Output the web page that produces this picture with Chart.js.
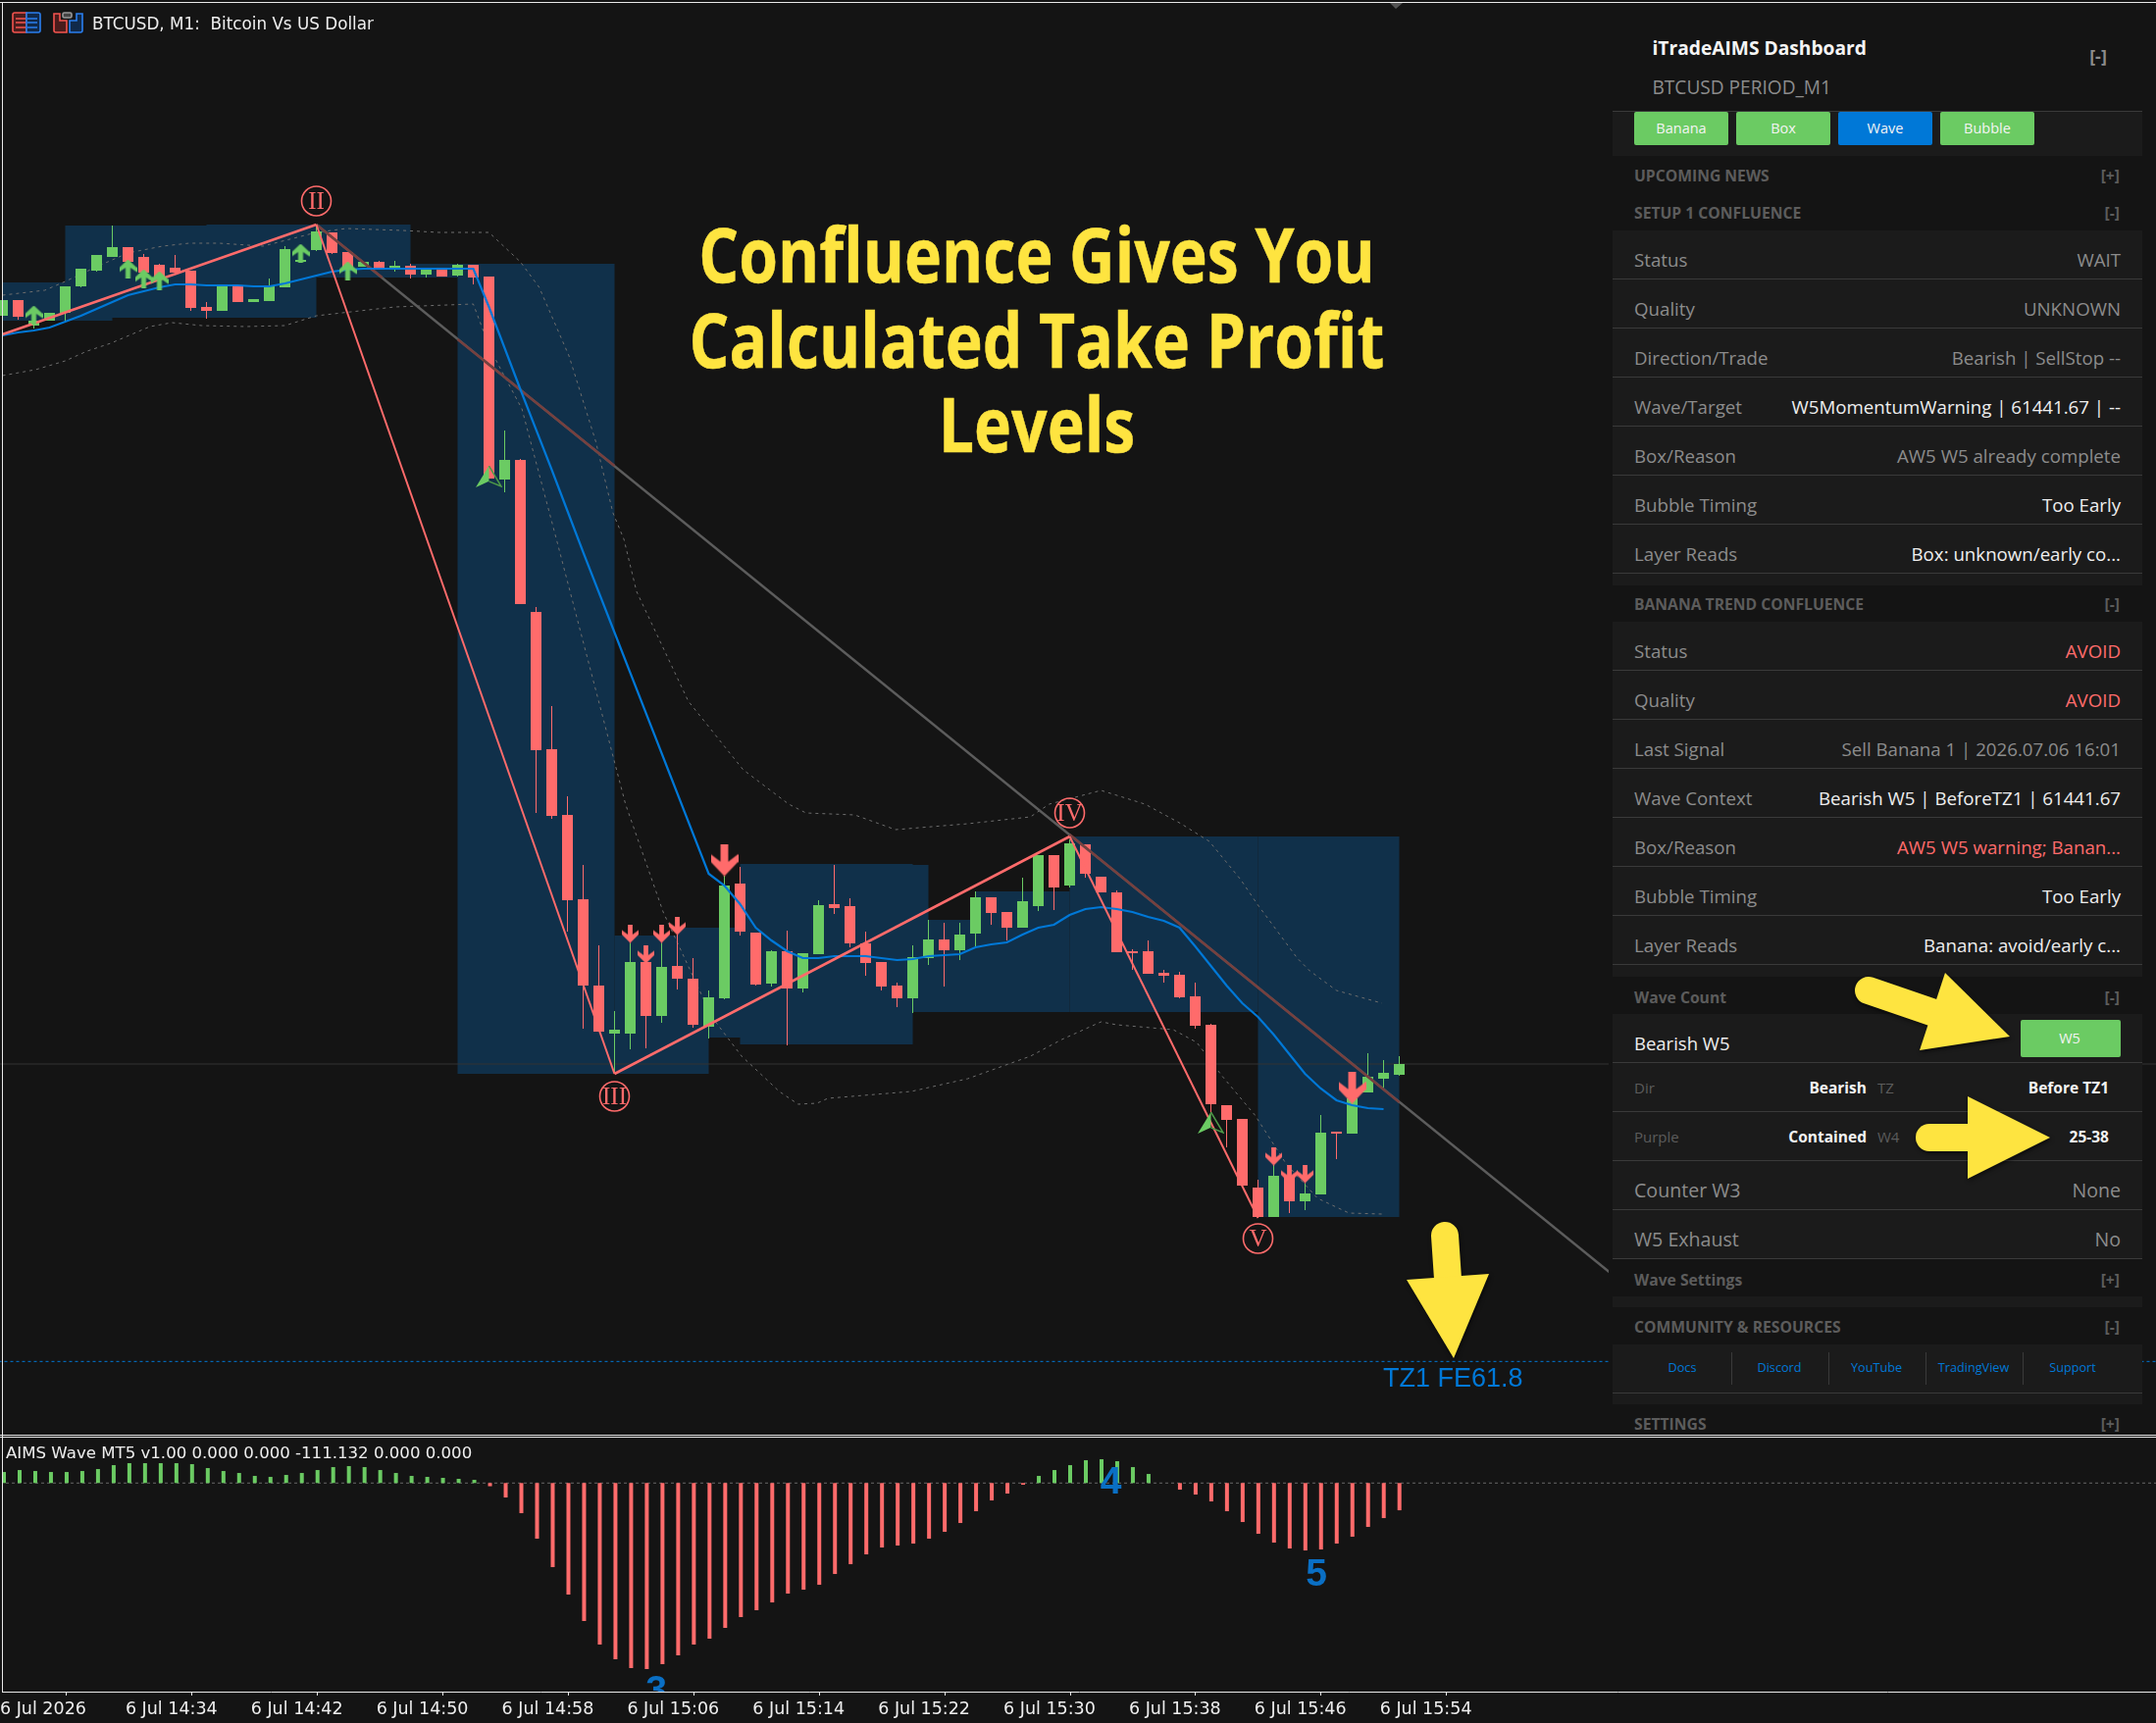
<!DOCTYPE html>
<html>
<head>
<meta charset="utf-8">
<title>BTCUSD M1</title>
<script src="https://cdn.jsdelivr.net/npm/chart.js@4/dist/chart.umd.min.js"></script>
<style>
  html, body { margin: 0; padding: 0; background: #141414; }
  #page { position: relative; width: 2198px; height: 1757px; overflow: hidden; background: #141414; }
  canvas { position: absolute; left: 0; }
  #mainChart { top: 0; }
  #waveChart { top: 1466px; }
  .box { position: absolute; }
  .txt { position: absolute; white-space: nowrap; transform: translateY(-50%); font-family: "Open Sans", sans-serif; }
  #headline { position: absolute; left: 557px; top: 216px; width: 1000px; text-align: center; color: #fee440; white-space: nowrap;
    font: 700 77px/86.5px "Open Sans", sans-serif; transform: scaleX(0.835); -webkit-text-stroke: 0.5px #fee440; }
  svg { position: absolute; left: 0; top: 0; }
</style>
</head>
<body>
<div id="page">
  <canvas id="mainChart" width="2198" height="1460"></canvas>
  <canvas id="waveChart" width="2198" height="291"></canvas>
  <div id="panel"></div>
  <div id="headline">Confluence Gives You<br>Calculated Take Profit<br>Levels</div>
  <svg width="2198" height="1757" id="overlay">
    <g fill="#fee440" stroke="none" style="filter: drop-shadow(1px 2px 2px rgba(0,0,0,0.6))">
      <path d="M1905 1010 L1972 1033" stroke="#fee440" stroke-width="28" stroke-linecap="round"/>
      <polygon points="1983,992 2049,1057 1957,1071"/>
      <path d="M1967 1160 L2010 1160" stroke="#fee440" stroke-width="28" stroke-linecap="round"/>
      <polygon points="2006,1118 2090,1160 2006,1202"/>
      <path d="M1473 1260 L1476 1304" stroke="#fee440" stroke-width="28" stroke-linecap="round"/>
      <polygon points="1434,1305 1518,1299 1482,1385"/>
    </g>
    <!-- chart window frame -->
    <g fill="#e8e8e8">
      <rect x="0" y="2" width="2198" height="1"/>
      <rect x="2" y="2" width="1" height="1723"/>
      <rect x="0" y="1463" width="2198" height="1"/>
      <rect x="0" y="1465" width="2198" height="1"/>
    </g>
    <polygon points="1417,3 1430,3 1423,9" fill="#555"/>
    <!-- toolbar icons -->
    <g fill="none" stroke-width="1.6">
      <path d="M27 13 H15 Q13 13 13 15 V31 Q13 33 15 33 H27 Z" fill="#4a1c1c" stroke="#f4544f"/>
      <path d="M27 13 H39 Q41 13 41 15 V31 Q41 33 39 33 H27 Z" fill="#10294a" stroke="#2a7ff0"/>
      <path d="M16 19 H26 M16 23 H26 M16 28 H26" stroke="#f4544f"/>
      <path d="M28 19 H38 M28 23 H38 M28 28 H38" stroke="#2a7ff0"/>
      <path d="M55 14 H61 V21 H68 V33 H57 Q55 33 55 31 Z" fill="#4a1c1c" stroke="#f4544f"/>
      <path d="M84 14 H78 V21 H71 V33 H82 Q84 33 84 31 Z" fill="#10294a" stroke="#2a7ff0"/>
      <rect x="64" y="13" width="9" height="5" rx="1.5" stroke="#999" fill="#444"/>
    </g>
  </svg>
  <div class="txt" style="left:94px;top:24px;color:#eee;font:16.8px 'DejaVu Sans',sans-serif;">BTCUSD, M1:&nbsp; Bitcoin Vs US Dollar</div>
  <div class="txt" style="left:6px;top:1481px;color:#eee;font:16.6px 'DejaVu Sans',sans-serif;">AIMS Wave MT5 v1.00 0.000 0.000 -111.132 0.000 0.000</div>
</div>
<script>
// candles, M1, one entry per bar
const barOpen = [
  62508,62524,62498,62503,62511,62538,62554,62568,62578,62568,
  62560,62557,62554,62517,62513,62538,62522,62523,62537,62563,
  62575,62593,62573,62558,62563,62557,62559,62550,62555,62549,
  62560,62548,62341,62361,62206,62066,61999,61913,61825,61776,
  61776,61849,61794,61845,61832,61783,61812,61929,61879,61827,
  61860,61822,61857,61908,61906,61868,61849,61825,61812,61853,
  61872,61861,61878,61915,61900,61884,61906,61958,61927,61969,
  61936,61920,61860,61860,61838,61836,61814,61785,61703,61689,
  61619,61589,61630,61605,61612,61676,61674,61716,61730,61734];
const barClose = [
  62524,62507,62503,62511,62538,62556,62570,62578,62563,62552,
  62547,62552,62516,62513,62538,62522,62525,62538,62576,62565,
  62594,62572,62555,62563,62557,62559,62550,62555,62548,62560,
  62547,62342,62361,62214,62065,61998,61912,61825,61778,61780,
  61849,61794,61844,61832,61785,61813,61927,61880,61826,61860,
  61822,61858,61907,61904,61868,61848,61824,61812,61854,61872,
  61861,61877,61915,61899,61884,61911,61958,61925,61970,61939,
  61920,61859,61858,61837,61835,61813,61784,61704,61688,61621,
  61589,61631,61605,61613,61675,61674,61710,61732,61736,61745];
const barHigh = [
  62524,62524,62510,62511,62538,62556,62570,62600,62578,62571,
  62561,62570,62554,62522,62538,62538,62525,62546,62579,62570,
  62600,62593,62573,62563,62564,62564,62561,62555,62555,62561,
  62560,62548,62391,62362,62211,62110,62018,61948,61866,61799,
  61868,61855,61868,61877,61853,61820,61937,61946,61879,61861,
  61881,61858,61912,61948,61914,61880,61849,61828,61866,61892,
  61889,61889,61921,61915,61900,61935,61958,61958,61974,61969,
  61936,61922,61862,61871,61841,61839,61828,61786,61703,61689,
  61627,61642,61642,61623,61693,61676,61725,61756,61749,61753];
const barLow = [
  62508,62504,62495,62503,62502,62537,62553,62568,62555,62550,
  62545,62552,62513,62505,62513,62522,62522,62523,62537,62563,
  62574,62571,62550,62558,62555,62553,62546,62547,62548,62548,
  62540,62342,62328,62214,62001,61995,61880,61781,61778,61735,
  61760,61761,61787,61821,61782,61771,61811,61876,61825,61824,
  61764,61818,61857,61898,61864,61835,61820,61803,61797,61846,
  61824,61851,61865,61887,61871,61884,61901,61902,61925,61935,
  61920,61859,61841,61837,61828,61812,61781,61695,61660,61621,
  61588,61589,61593,61596,61612,61648,61674,61716,61720,61733];

// blue middle line
const maLine = [
  62488,62491,62493,62496,62502,62508,62515,62522,62529,62533,
  62537,62540,62540,62539,62539,62539,62538,62538,62541,62545,
  62549,62553,62555,62556,62556,62556,62556,62556,62556,62556,
  62556,62517,62475,62433,62392,62351,62309,62267,62226,62185,
  62144,62103,62062,62021,61980,61939,61927,61908,61884,61871,
  61860,61853,61853,61855,61855,61855,61853,61851,61852,61855,
  61856,61857,61864,61867,61869,61877,61884,61887,61897,61903,
  61905,61903,61900,61895,61891,61884,61865,61845,61825,61807,
  61793,61775,61755,61735,61720,61708,61703,61700,61699];

// dotted bands, bar position / price
const upperBandX = [0,2.7,4,6,8,10.2,11.9,13.8,16.6,20,21.9,25.5,27.8,31,33,34.2,36.1,37.8,38.9,39.6,40.4,43.7,47.2,50.1,51.2,54.3,56.9,61.5,65.5,66.7,70,72.8,75.1,76.9,78.9,80,82.5,83.3,85,87.9];
const upperBandY = [62529,62534,62543,62558,62572,62579,62582,62582,62579,62593,62597,62595,62593,62593,62563,62537,62467,62380,62307,62280,62227,62115,62045,62010,62001,61999,61984,61990,61997,62010,62024,62010,61990,61972,61933,61907,61853,61840,61820,61807];
const lowerBandX = [0,2.1,4,5.4,6.9,9.4,10.8,12.7,15.5,18,20,22.2,25,30,31.1,33.1,35.3,39.7,42.1,45.2,47.1,49.5,50.7,51.9,52.6,57.9,61.5,65.5,67.5,70,71,74.6,76.1,77.7,79.8,81.8,83.8,85.8,87.9];
const lowerBandY = [62447,62453,62462,62472,62480,62497,62501,62498,62497,62498,62508,62512,62517,62520,62473,62413,62280,62010,61900,61793,61753,61717,61704,61705,61710,61717,61730,61753,61770,61788,61785,61780,61767,61733,61693,61643,61608,61593,61592];

// wave count pivots
const waveX = [0,20,39,68,80];
const waveY = [62489,62601,61735,61977,61588];
const waveLabels = ["II","III","IV","V"];
const waveLabelX = [20,39,68,80];
const waveLabelY = [62625,61712,62001,61567];

// grey trend line and the brown parts where it runs over a box
const trendX = [20,102.375];
const trendY = [62601,61533];
const trendBoxX = [20,24.2,null,29,39,null,68,89];
const trendBoxY = [62601,62547,null,62484,62355,null,61979,61706];

// price levels
const tzLevel = 61441.67;
const lastClose = 61745;

// boxes: first bar, last bar, top, bottom
const zoneStart = [0,4,13,20,29,39,43,47,53,58,62,68,80];
const zoneEnd = [7,20,26,30.3,39,45,50,58,59,62.3,68,80,89];
const zoneTop = [62542,62600,62601,62561,62561,61876,61884,61949,61948,61892,61921,61977,61977];
const zoneBottom = [62503,62506,62547,62547,61735,61735,61772,61765,61798,61798,61798,61798,61589];

// signal arrows
const buyX = [2,8,9,10,19,22];
const buyY = [62509,62556,62546,62544,62572,62554];
const sellX = [40,41,42,43,81,82,83];
const sellY = [61878,61857,61878,61886,61651,61633,61633];
const bigSellX = [46,86];
const bigSellY = [61953,61721];
const wedgeX = [31,77];
const wedgeY = [62344,61685];

// oscillator histogram
const waveOsc = [
  45,53,49,45,45,49,57,73,81,81,81,81,77,61,49,41,29,25,33,41,
  53,65,69,65,53,41,29,25,21,17,13,-13,-59,-123,-227,-343,-455,-563,-659,-719,
  -755,-759,-739,-703,-659,-635,-591,-547,-519,-487,-451,-435,-415,-371,-331,-291,-263,-255,-247,-227,
  -199,-163,-115,-71,-43,-7,29,53,73,93,97,89,65,37,0,-27,-47,-75,-115,-159,
  -207,-243,-267,-275,-271,-247,-219,-179,-143,-111.132];
const oscLabels = ["3","4","5"];
const oscLabelX = [41.6,70.6,83.7];
const oscLabelY = [-850,0,-377];

// time axis
const timeTickX = [0,8,16,24,32,40,48,56,64,72,80,88];
const timeTicks = ["6 Jul 2026","6 Jul 14:34","6 Jul 14:42","6 Jul 14:50","6 Jul 14:58","6 Jul 15:06","6 Jul 15:14","6 Jul 15:22","6 Jul 15:30","6 Jul 15:38","6 Jul 15:46","6 Jul 15:54"];

const GREEN = "#6bcb63", RED = "#ff6b6b", BLUE = "#0078d7", ZONE = "#10304a";

const zip = (xs, ys) => xs.map((x, i) => ({ x: x, y: ys[i] }));
const barIdx = barOpen.map((_, i) => i);
const candleColor = barOpen.map((o, i) => (barClose[i] >= o ? GREEN : RED));

function arrowIcon(w, h, color, up) {
  const c = document.createElement("canvas");
  c.width = w; c.height = h;
  const g = c.getContext("2d");
  if (up) { g.translate(0, h); g.scale(1, -1); }
  g.fillStyle = color;
  g.beginPath();
  [[.36,0],[.64,0],[.64,.55],[1,.32],[1,.55],[.5,1],[0,.55],[0,.32],[.36,.55]].forEach(p => g.lineTo(p[0]*w, p[1]*h));
  g.closePath();
  g.fill();
  return c;
}
function wedgeIcon(w, h) {
  const c = document.createElement("canvas");
  c.width = w; c.height = h;
  const g = c.getContext("2d");
  g.fillStyle = GREEN; g.strokeStyle = "#4e9a48"; g.lineWidth = 1.5;
  g.beginPath(); g.moveTo(w/2, 0); g.lineTo(0, h); g.lineTo(w/2, h*.72); g.closePath(); g.fill();
  g.beginPath(); g.moveTo(w/2, 0); g.lineTo(w-1, h-1); g.lineTo(w/2, h*.72); g.stroke();
  return c;
}
const lineDefaults = { type: "line", pointRadius: 0, tension: 0, fill: false };
const markerDefaults = { type: "line", showLine: false, pointRadius: 10 };

// boxes go under every dataset
const zonePlugin = {
  id: "zones",
  beforeDatasetsDraw(chart) {
    const { ctx, scales: { x, y } } = chart;
    ctx.save();
    ctx.fillStyle = ZONE;
    zoneStart.forEach((s, i) => {
      const l = x.getPixelForValue(s), r = x.getPixelForValue(zoneEnd[i]);
      const t = y.getPixelForValue(zoneTop[i]), b = y.getPixelForValue(zoneBottom[i]);
      ctx.fillRect(l, t, r - l, b - t);
    });
    ctx.restore();
  }
};
const labelPlugin = {
  id: "waveLabels",
  afterDatasetsDraw(chart) {
    const { ctx, scales: { x, y } } = chart;
    ctx.save();
    ctx.textAlign = "center";
    ctx.textBaseline = "middle";
    ctx.strokeStyle = RED;
    ctx.fillStyle = RED;
    ctx.lineWidth = 1.6;
    ctx.font = "25px 'Liberation Serif', serif";
    waveLabels.forEach((t, i) => {
      const px = x.getPixelForValue(waveLabelX[i]), py = y.getPixelForValue(waveLabelY[i]);
      ctx.beginPath();
      ctx.arc(px, py, 15, 0, Math.PI * 2);
      ctx.stroke();
      ctx.fillText(t, px, py + 1);
    });
    ctx.fillStyle = BLUE;
    ctx.textAlign = "left";
    ctx.font = "27px 'Liberation Sans', sans-serif";
    ctx.fillText("TZ1 FE61.8", 1410, y.getPixelForValue(tzLevel - 18));
    ctx.restore();
  }
};
const oscLabelPlugin = {
  id: "oscLabels",
  afterDatasetsDraw(chart) {
    const { ctx, chartArea, scales: { x, y } } = chart;
    ctx.save();
    ctx.beginPath();
    ctx.rect(chartArea.left, chartArea.top, chartArea.right - chartArea.left, chartArea.bottom - chartArea.top);
    ctx.clip();
    ctx.fillStyle = "#0a6fc4";
    ctx.textAlign = "center";
    ctx.textBaseline = "middle";
    ctx.font = "bold 39px 'Liberation Sans', sans-serif";
    oscLabels.forEach((t, i) => ctx.fillText(t, x.getPixelForValue(oscLabelX[i]), y.getPixelForValue(oscLabelY[i])));
    ctx.restore();
  }
};

new Chart(document.getElementById("mainChart"), {
  type: "bar",
  plugins: [zonePlugin, labelPlugin],
  data: {
    datasets: [
      { ...markerDefaults, order: 1, data: zip(buyX, buyY), pointStyle: arrowIcon(18, 19, GREEN, true) },
      { ...markerDefaults, order: 1, data: zip(sellX, sellY), pointStyle: arrowIcon(17, 19, RED, false) },
      { ...markerDefaults, order: 1, data: zip(bigSellX, bigSellY), pointStyle: arrowIcon(28, 33, RED, false) },
      { ...markerDefaults, order: 1, data: zip(wedgeX, wedgeY), pointStyle: wedgeIcon(27, 22) },
      { ...lineDefaults, order: 2, data: zip(waveX, waveY), borderColor: RED, borderWidth: 2,
        segment: { borderWidth: c => (c.p1.parsed.y > c.p0.parsed.y ? 2.6 : 2) } },
      { ...lineDefaults, order: 3, data: barIdx.slice(0, maLine.length).map(i => ({ x: i, y: maLine[i] })), borderColor: BLUE, borderWidth: 2.2 },
      { ...lineDefaults, order: 4, data: zip(trendBoxX, trendBoxY), borderColor: "#76403f", borderWidth: 2.4, spanGaps: false },
      { ...lineDefaults, order: 5, data: zip(trendX, trendY), borderColor: "#5c5c5c", borderWidth: 2.4 },
      { type: "bar", order: 6, grouped: false, barThickness: 11, inflateAmount: 0,
        data: barIdx.map(i => ({ x: i, y: [barOpen[i], barClose[i]] })), backgroundColor: candleColor },
      { type: "bar", order: 7, grouped: false, barThickness: 1, inflateAmount: 0,
        data: barIdx.map(i => ({ x: i, y: [barLow[i], barHigh[i]] })), backgroundColor: candleColor },
      { ...lineDefaults, order: 8, data: zip(upperBandX, upperBandY), borderColor: "#6e6e6e", borderWidth: 1, borderDash: [3, 4] },
      { ...lineDefaults, order: 8, data: zip(lowerBandX, lowerBandY), borderColor: "#6e6e6e", borderWidth: 1, borderDash: [3, 4] },
      { ...lineDefaults, order: 9, data: zip([-1, 138], [tzLevel, tzLevel]), borderColor: BLUE, borderWidth: 1, borderDash: [3, 3] },
      { ...lineDefaults, order: 9, data: zip([-1, 138], [lastClose, lastClose]), borderColor: "#333", borderWidth: 1 }
    ]
  },
  options: {
    responsive: false,
    animation: false,
    layout: { padding: 0, autoPadding: false },
    plugins: { legend: { display: false }, tooltip: { enabled: false } },
    scales: {
      x: { type: "linear", display: false, offset: false, min: -0.15625, max: 137.21875 },
      y: { display: false, min: 61370, max: 62830, beginAtZero: false }
    }
  }
});

new Chart(document.getElementById("waveChart"), {
  type: "bar",
  plugins: [oscLabelPlugin],
  data: {
    datasets: [
      { type: "bar", order: 1, grouped: false, barThickness: 4, inflateAmount: 0,
        data: waveOsc.map((v, i) => ({ x: i, y: v })),
        backgroundColor: waveOsc.map(v => (v >= 0 ? GREEN : RED)) },
      { ...lineDefaults, order: 2, data: zip([-1, 138], [0, 0]), borderColor: "#666", borderWidth: 1, borderDash: [3, 3] }
    ]
  },
  options: {
    responsive: false,
    animation: false,
    layout: { padding: 0, autoPadding: false },
    plugins: { legend: { display: false }, tooltip: { enabled: false } },
    scales: {
      x: {
        type: "linear", offset: false, min: -0.125, max: 137.25,
        afterFit: s => { s.height = 32; },
        afterBuildTicks: s => { s.ticks = timeTickX.map(v => ({ value: v })); },
        border: { color: "#e8e8e8" },
        grid: { drawOnChartArea: false, drawTicks: true, tickLength: 4, tickColor: "#e8e8e8" },
        ticks: {
          autoSkip: false, maxRotation: 0, align: "start", padding: 4, labelOffset: -4, color: "#eee",
          font: { family: "'DejaVu Sans', sans-serif", size: 17.5 },
          callback: v => timeTicks[timeTickX.indexOf(v)]
        }
      },
      y: { display: false, min: -850.8, max: 185.2, beginAtZero: false }
    }
  }
});

// dashboard panel, built from its own rows
const setupRows = [
  ["Status", "WAIT", "#8c8c8c"],
  ["Quality", "UNKNOWN", "#8c8c8c"],
  ["Direction/Trade", "Bearish | SellStop --", "#8c8c8c"],
  ["Wave/Target", "W5MomentumWarning | 61441.67 | --", "#eeeeee"],
  ["Box/Reason", "AW5 W5 already complete", "#8c8c8c"],
  ["Bubble Timing", "Too Early", "#eeeeee"],
  ["Layer Reads", "Box: unknown/early co...", "#eeeeee"]
];
const bananaRows = [
  ["Status", "AVOID", RED],
  ["Quality", "AVOID", RED],
  ["Last Signal", "Sell Banana 1 | 2026.07.06 16:01", "#8c8c8c"],
  ["Wave Context", "Bearish W5 | BeforeTZ1 | 61441.67", "#eeeeee"],
  ["Box/Reason", "AW5 W5 warning; Banan...", RED],
  ["Bubble Timing", "Too Early", "#eeeeee"],
  ["Layer Reads", "Banana: avoid/early c...", "#eeeeee"]
];
const headerRows = [
  ["UPCOMING NEWS", "[+]", 179], ["SETUP 1 CONFLUENCE", "[-]", 217], ["BANANA TREND CONFLUENCE", "[-]", 615.5],
  ["Wave Count", "[-]", 1017], ["Wave Settings", "[+]", 1305], ["COMMUNITY & RESOURCES", "[-]", 1353], ["SETTINGS", "[+]", 1452]
];
const toggleButtons = [["Banana", 1666, GREEN], ["Box", 1770, GREEN], ["Wave", 1874, BLUE], ["Bubble", 1978, GREEN]];
const linkNames = ["Docs", "Discord", "YouTube", "TradingView", "Support"];
const linkCenters = [1715, 1814, 1913, 2012, 2113];
const linkDividers = [1765, 1864, 1963, 2062];

const panel = document.getElementById("panel");
function rect(l, t, w, h, color) {
  const d = document.createElement("div");
  d.className = "box";
  d.style.cssText = `left:${l}px;top:${t}px;width:${w}px;height:${h}px;background:${color}`;
  panel.appendChild(d);
  return d;
}
function text(str, x, y, size, color, opts) {
  opts = opts || {};
  const d = document.createElement("div");
  d.className = "txt";
  d.textContent = str;
  d.style.top = y + "px";
  d.style.fontSize = size + "px";
  d.style.color = color;
  if (opts.bold) d.style.fontWeight = "700";
  if (opts.align === "right") d.style.right = (2198 - x) + "px";
  else if (opts.align === "center") { d.style.left = x + "px"; d.style.transform = "translate(-50%,-50%)"; }
  else d.style.left = x + "px";
  panel.appendChild(d);
}
const ROW_L = 1644, ROW_W = 540, TXT_L = 1666, TXT_R = 2162, ROW_BG = "#1b1b1b", LINE = "#3a3a3a";

rect(1640, 3, 544, 1460, "#141414");
text("iTradeAIMS Dashboard", 1684.5, 48, 19.2, "#f4f4f4", { bold: true });
text("BTCUSD PERIOD_M1", 1684.5, 89, 19.1, "#8c8c8c");
text("[-]", 2139, 57, 18, "#8c8c8c", { bold: true, align: "center" });
rect(ROW_L, 113, ROW_W, 46, ROW_BG);
rect(ROW_L, 113, ROW_W, 1, LINE);
toggleButtons.forEach(b => {
  const e = rect(b[1], 114, 96, 34, b[2]);
  e.style.borderRadius = "2px";
  text(b[0], b[1] + 48, 130, 14.5, "#f4f4f4", { align: "center" });
});
headerRows.forEach(h => {
  text(h[0], TXT_L, h[2], 15.7, "#5c5c5c", { bold: true });
  text(h[1], 2161, h[2], 15.7, "#5c5c5c", { bold: true, align: "right" });
});
function drawRows(rows, top) {
  rect(ROW_L, top, ROW_W, rows.length * 50 + 12, ROW_BG);
  rows.forEach((r, i) => {
    const bottom = top + (i + 1) * 50;
    rect(ROW_L, bottom - 1, ROW_W, 1, LINE);
    text(r[0], TXT_L, bottom - 21, 18.7, "#8c8c8c");
    text(r[1], TXT_R, bottom - 21, 18.7, r[2], { align: "right" });
  });
}
drawRows(setupRows, 235);
drawRows(bananaRows, 634);

// wave count block
rect(ROW_L, 1034, ROW_W, 250, ROW_BG);
[1083, 1133, 1183, 1233, 1283].forEach(y => rect(ROW_L, y, ROW_W, 1, LINE));
text("Bearish W5", TXT_L, 1063, 18.5, "#eeeeee");
rect(2060, 1040, 102, 38, GREEN).style.borderRadius = "2px";
text("W5", 2110, 1058, 14.5, "#f4f4f4", { align: "center" });
text("Dir", TXT_L, 1109, 15, "#5c5c5c");
text("Bearish", 1903, 1109, 15.5, "#f4f4f4", { bold: true, align: "right" });
text("TZ", 1914, 1109, 15, "#5c5c5c");
text("Before TZ1", 2150, 1109, 15.5, "#f4f4f4", { bold: true, align: "right" });
text("Purple", TXT_L, 1159, 15, "#5c5c5c");
text("Contained", 1903, 1159, 15.5, "#f4f4f4", { bold: true, align: "right" });
text("W4", 1914, 1159, 15, "#5c5c5c");
text("25-38", 2150, 1159, 15.5, "#f4f4f4", { bold: true, align: "right" });
text("Counter W3", TXT_L, 1213, 19.6, "#8c8c8c");
text("None", TXT_R, 1213, 19.6, "#8c8c8c", { align: "right" });
text("W5 Exhaust", TXT_L, 1263, 19.6, "#8c8c8c");
text("No", TXT_R, 1263, 19.6, "#8c8c8c", { align: "right" });
rect(ROW_L, 1322, ROW_W, 11, ROW_BG);

// link bar
rect(ROW_L, 1371, ROW_W, 61, ROW_BG);
rect(ROW_L, 1420, ROW_W, 1, LINE);
linkNames.forEach((n, i) => text(n, linkCenters[i], 1394, 12.7, BLUE, { align: "center" }));
linkDividers.forEach(x => rect(x, 1379, 1, 33, LINE));
</script>
</body>
</html>
